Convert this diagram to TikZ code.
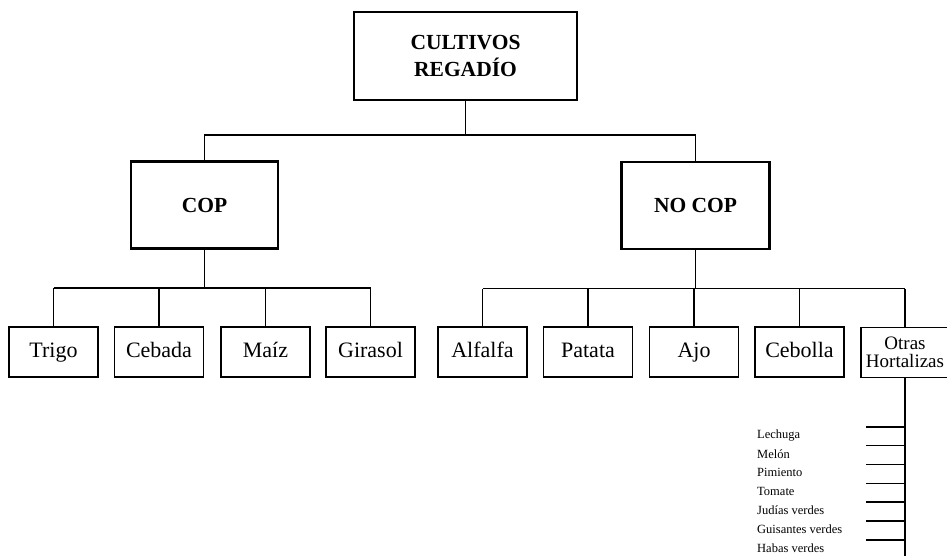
\documentclass[tikz,border=0pt]{standalone}
\usepackage{fontspec}
\setmainfont{Liberation Serif}
\begin{document}
\begin{tikzpicture}[x=1pt,y=-1pt,
  mainbox/.style={draw, line width=2.8pt, minimum width=147pt, minimum height=87pt, inner sep=0pt, align=center, font=\fontsize{21.5}{27}\selectfont\bfseries},
  leafbox/.style={draw, line width=1.7pt, minimum width=89pt, minimum height=50pt, inner sep=0pt, align=center, text height=15pt, text depth=4pt, font=\fontsize{22}{26}\selectfont},
  conn/.style={line width=1.3pt},
  item/.style={anchor=west, inner sep=0pt, font=\fontsize{12.5}{14}\selectfont}]
\useasboundingbox[fill=white] (0,0) rectangle (947,555);

\node[mainbox, minimum width=223pt, minimum height=88pt] (top) at (465.5,56) {CULTIVOS\\REGADÍO};
\node[mainbox] (cop) at (204.5,205) {COP};
\node[mainbox, minimum width=148pt] (nocop) at (695.5,205.5) {NO COP};

\node[leafbox] (trigo) at (53.5,352) {Trigo};
\node[leafbox] (cebada) at (159,352) {Cebada};
\node[leafbox] (maiz) at (265.5,352) {Maíz};
\node[leafbox] (girasol) at (370.5,352) {Girasol};

\node[leafbox] (alfalfa) at (482.5,352) {Alfalfa};
\node[leafbox] (patata) at (588,352) {Patata};
\node[leafbox] (ajo) at (694,352) {Ajo};
\node[leafbox] (cebolla) at (799.5,352) {Cebolla};
\node[leafbox, minimum width=88pt, text height=, text depth=, font=\fontsize{19}{18.5}\selectfont] (otras) at (905,352.5) {Otras\\Hortalizas};

% top level connectors
\coordinate (h1) at (465.5,135);
\draw[conn] (top.south) -- (h1);
\draw[conn] (cop.north) |- (h1) -| (nocop.north);

% COP children
\coordinate (h2) at (204.5,288);
\draw[conn] (cop.south) -- (h2);
\draw[conn] (trigo.north |- h2) -- (girasol.north |- h2);
\foreach \n in {trigo,cebada,maiz,girasol}
  \draw[conn] (\n.north) -- (\n.north |- h2);

% NO COP children
\coordinate (h3) at (695.5,288.5);
\draw[conn] (nocop.south) -- (h3);
\draw[conn] (alfalfa.north |- h3) -- (otras.north |- h3);
\foreach \n in {alfalfa,patata,ajo,cebolla,otras}
  \draw[conn] (\n.north) -- (\n.north |- h3);

% Otras Hortalizas list
\coordinate (bot) at (905,560);
\draw[line width=2pt] (otras.south) -- (bot);
\foreach \y/\t [count=\i] in {427/Lechuga,445.5/Melón,464.5/Pimiento,483.5/Tomate,502/Judías verdes,521/Guisantes verdes,540/Habas verdes}{
  \coordinate (tk\i) at (905,\y);
  \coordinate (te\i) at (866,\y);
  \draw[line width=1.3pt] (tk\i) -- (te\i);
  \node[item] (it\i) at (757,\y+8.3) {\t};
}
\end{tikzpicture}
\end{document}
